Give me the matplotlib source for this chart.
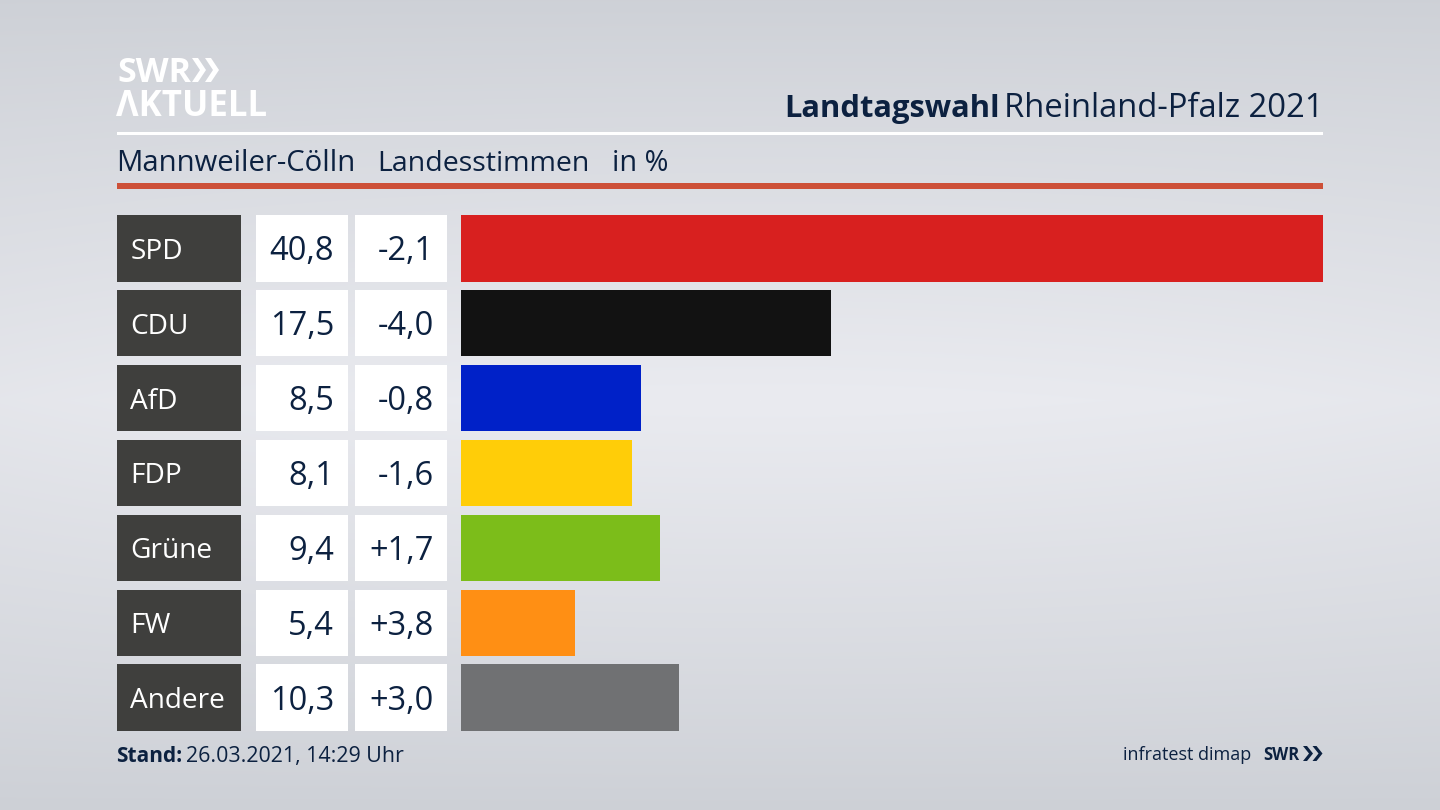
import numpy as np
import matplotlib
matplotlib.use("Agg")
import matplotlib.pyplot as plt
from matplotlib.patches import Polygon, Rectangle

parties = ["SPD", "CDU", "AfD", "FDP", "Grüne", "FW", "Andere"]
shares = [40.8, 17.5, 8.5, 8.1, 9.4, 5.4, 10.3]
changes = ["-2,1", "-4,0", "-0,8", "-1,6", "+1,7", "+3,8", "+3,0"]
colors = ["#d8201f", "#121212", "#0021c8", "#ffcd08", "#7cbd1a", "#ff8f14", "#707173"]

NAVY = "#0c2140"
FONT = "Open Sans"
W, H = 1440, 810
plt.rcParams["font.family"] = [FONT, "DejaVu Sans"]

fig = plt.figure(figsize=(W / 100, H / 100), dpi=100)


def axes_px(x0, y0, x1, y1, **kw):
    return fig.add_axes([x0 / W, 1 - y1 / H, (x1 - x0) / W, (y1 - y0) / H], **kw)


def chevron(a, x, y0, y1, w, th, color):
    ym = (y0 + y1) / 2
    a.add_patch(Polygon([(x, y0), (x + th, y0), (x + th + w, ym), (x + th, y1), (x, y1), (x + w, ym)],
                        closed=True, fc=color, ec="none"))


# background (pixel coordinates, y downwards)
bg = axes_px(0, 0, W, H)
yy, xx = np.mgrid[0:H, 0:W]
t = np.clip(1 - np.abs(yy - 400) / 410, 0, 1) ** 0.9
hz = np.abs(xx - 760) / 760
t = t * (1 - 0.18 * hz ** 2)
c0 = np.array([205, 208, 214]) / 255
c1 = np.array([234, 235, 240]) / 255
bg.imshow(c0 + (c1 - c0) * t[..., None], extent=(0, W, H, 0), aspect="auto", interpolation="bilinear")
bg.set_xlim(0, W)
bg.set_ylim(H, 0)
bg.axis("off")

# header rules
bg.add_patch(Rectangle((117, 132), 1206, 3, fc="white", ec="none"))
bg.add_patch(Rectangle((117, 183), 1206, 6, fc="#cd5038", ec="none"))

# logo
bg.text(117, 82, "SWR", color="white", fontsize=24.5, fontweight="bold", va="baseline", ha="left")
bg.text(116, 116, "ΛKTUELL", color="white", fontsize=25, fontweight="bold", va="baseline", ha="left")
for x in (192, 205):
    chevron(bg, x, 58, 82, 8, 6, "white")

# titles
bg.text(784, 117, "Landtagswahl", color=NAVY, fontsize=22.2, fontweight="bold", va="baseline", ha="left")
bg.text(1323, 117, "Rheinland-Pfalz 2021", color=NAVY, fontsize=23.55, va="baseline", ha="right")
bg.text(116, 171, "Mannweiler-Cölln", color=NAVY, fontsize=21.1, va="baseline", ha="left")
bg.text(377, 171, "Landesstimmen", color=NAVY, fontsize=20.5, va="baseline", ha="left")
bg.text(612, 171, "in %", color=NAVY, fontsize=20.8, va="baseline", ha="left")

# footer
bg.text(116, 762, "Stand:", color=NAVY, fontsize=15, fontweight="bold", va="baseline", ha="left")
bg.text(186, 762, "26.03.2021, 14:29 Uhr", color=NAVY, fontsize=15.4, va="baseline", ha="left")
bg.text(1251, 760, "infratest dimap", color=NAVY, fontsize=13, va="baseline", ha="right")
bg.text(1263, 760, "SWR", color=NAVY, fontsize=12, fontweight="bold", va="baseline", ha="left")
for x in (1303, 1312.5):
    chevron(bg, x, 746, 761, 6, 4, NAVY)

# table and bars share their row scale
rows = np.arange(len(parties))
row_h = 0.889
ylim = (6.444, -0.444)

tab = axes_px(117, 215, 447, 731)
tab.set_xlim(117, 447)
tab.set_ylim(*ylim)
tab.axis("off")
tab.patch.set_alpha(0)
tab.barh(rows, 124, left=117, height=row_h, color="#3f3f3d")
tab.barh(rows, 92.5, left=255.5, height=row_h, color="white")
tab.barh(rows, 92.5, left=354.5, height=row_h, color="white")
for r, p, s, c in zip(rows, parties, shares, changes):
    tab.text(130.5, r + 0.14, p, color="white", fontsize=20.2, va="baseline", ha="left")
    tab.text(334, r + 0.16, f"{s:.1f}".replace(".", ","), color=NAVY, fontsize=23.5, va="baseline", ha="right")
    tab.text(434, r + 0.16, c, color=NAVY, fontsize=23.5, va="baseline", ha="right")

ax = axes_px(461, 215, 1323, 731)
ax.set_xlim(0, max(shares))
ax.set_ylim(*ylim)
ax.axis("off")
ax.patch.set_alpha(0)
ax.barh(rows, shares, height=row_h, color=colors)

fig.savefig("out.png", dpi=100)
